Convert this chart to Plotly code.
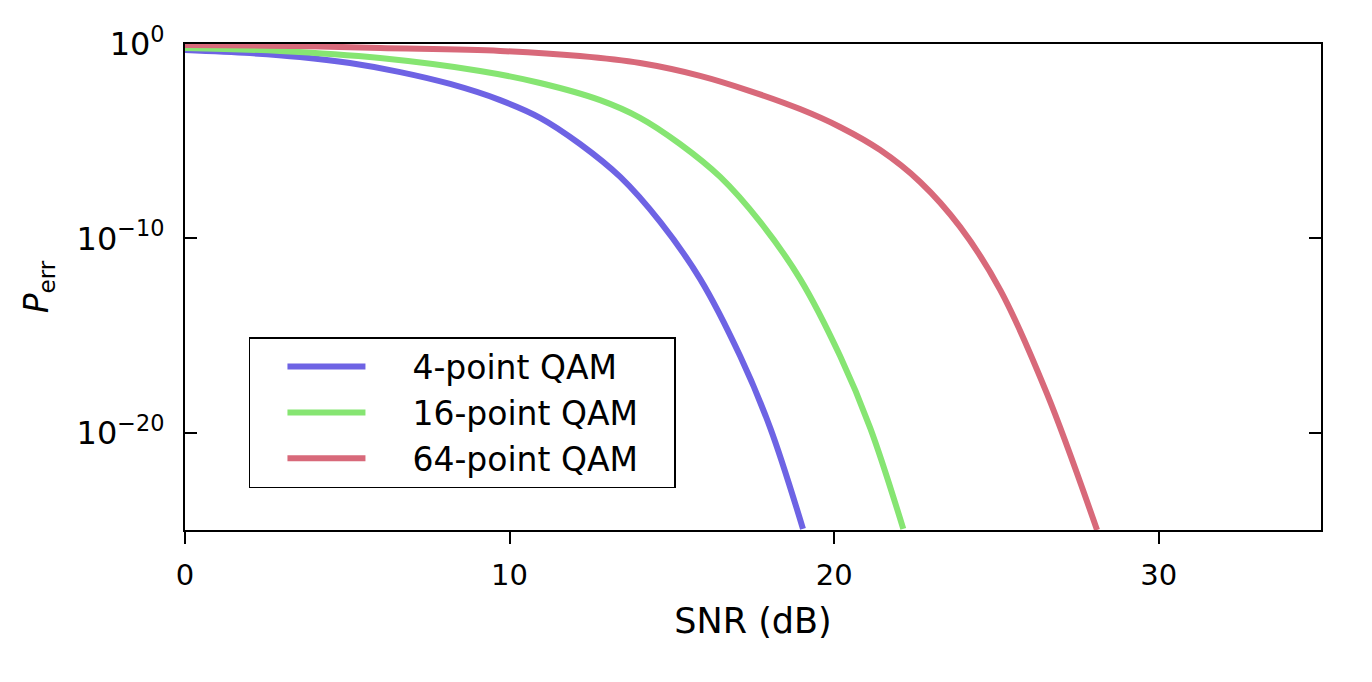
import plotly.graph_objects as go

# SNR (dB) / error-probability points, per curve
snr_4qam = [0.0, 2.00, 3.54, 5.08, 6.63, 8.17, 9.71, 10.94, 12.17, 13.41, 14.64, 15.87, 17.10, 18.03, 19.04]
perr_4qam = [4.9e-1, 3.4e-1, 2.15e-1, 1.05e-1, 3.6e-2, 8.8e-3, 1.3e-3, 1.6e-4, 7.2e-6,
             1.45e-7, 7.0e-10, 8.3e-13, 9.1e-17, 1.8e-20, 1.15e-25]

snr_16qam = [0.0, 2.93, 6.01, 9.09, 10.94, 12.79, 14.02, 15.25, 16.49, 17.72, 18.95, 20.18, 21.11, 22.13]
perr_16qam = [6.2e-1, 4.4e-1, 1.9e-1, 4.1e-2, 9.9e-3, 1.3e-3, 1.6e-4, 7.2e-6, 1.45e-7,
              7.0e-10, 8.3e-13, 9.1e-17, 1.8e-20, 1.15e-25]

snr_64qam = [0.0, 3.54, 6.01, 9.71, 12.17, 14.02, 15.87, 17.41, 18.95, 20.18, 21.42, 22.65,
             23.88, 25.12, 26.56, 28.10]
perr_64qam = [8.9e-1, 7.9e-1, 6.2e-1, 4.4e-1, 2.4e-1, 1.05e-1, 2.3e-2, 3.8e-3, 4.5e-4, 5.4e-5,
              3.5e-6, 8.0e-8, 3.9e-10, 2.2e-13, 1.0e-18, 1.0e-25]

series_names = ["4-point QAM", "16-point QAM", "64-point QAM"]
series_colors = ["#6E63E4", "#86E572", "#D8697A"]

x_ticks = [0, 10, 20, 30]
y_tickvals = [1, 1e-10, 1e-20]
y_ticktext = ["10<sup>0</sup>", "10<sup>\u221210</sup>", "10<sup>\u221220</sup>"]

FONT = "DejaVu Sans"
NB = "\u00a0"

fig = go.Figure()
for xs, ys, name, col in zip(
    [snr_4qam, snr_16qam, snr_64qam],
    [perr_4qam, perr_16qam, perr_64qam],
    series_names, series_colors,
):
    fig.add_trace(go.Scatter(
        x=xs, y=ys, mode="lines", name=NB * 4 + name + NB * 3,
        line=dict(color=col, width=6, shape="spline", smoothing=1.0),
    ))

# page body has an 8px margin; sizes below compensate so the plot sits where the reference has it
fig.update_layout(
    width=1356, height=666,
    margin=dict(l=177, r=43, t=36, b=144),
    paper_bgcolor="white", plot_bgcolor="white",
    font=dict(family=FONT, color="black", size=29),
    showlegend=True,
    legend=dict(
        x=0.0563, y=0.397, xanchor="left", yanchor="top",
        bgcolor="white", bordercolor="black", borderwidth=1.5,
        font=dict(family=FONT, size=33, color="black"),
        itemwidth=78, indentation=32,
    ),
)

fig.update_xaxes(
    range=[0, 35], tickvals=x_ticks, ticktext=[str(v) for v in x_ticks],
    showgrid=False, zeroline=False,
    showline=True, linecolor="black", linewidth=2, mirror=True,
    ticks="outside", ticklen=12, tickwidth=1.5, tickcolor="black",
    tickfont=dict(family=FONT, size=29), ticklabelstandoff=6,
    title=dict(text="SNR (dB)", font=dict(family=FONT, size=35), standoff=18),
)
fig.update_yaxes(
    type="log", range=[-25, 0],
    tickvals=y_tickvals, ticktext=y_ticktext,
    showgrid=False, zeroline=False,
    showline=True, linecolor="black", linewidth=2, mirror="ticks",
    ticks="inside", ticklen=12, tickwidth=1.5, tickcolor="black",
    tickfont=dict(family=FONT, size=32), ticklabelstandoff=12,
    title=dict(text="<i>P</i><sub>err</sub>", font=dict(family=FONT, size=33), standoff=18),
)

fig.write_html("out.html")
